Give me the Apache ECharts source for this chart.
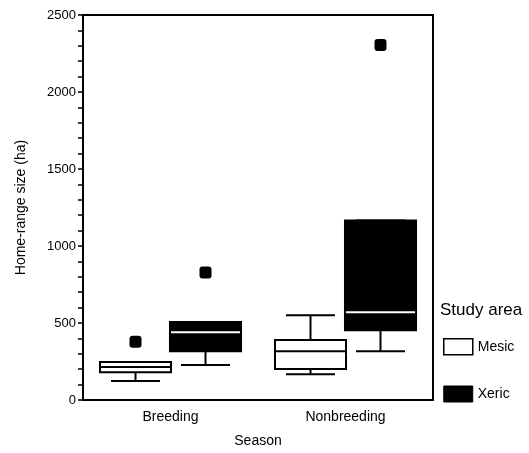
<!DOCTYPE html>
<html>
<head>
<meta charset="utf-8">
<script src="https://cdn.jsdelivr.net/npm/echarts@6/dist/echarts.min.js"></script>
<style>
  html, body { margin: 0; padding: 0; background: #fff; }
  #chart { width: 529px; height: 453px; }
</style>
</head>
<body>
<div id="chart"></div>
<script>
// Seasons on the x axis
const categories = ['Breeding', 'Nonbreeding'];
// Box summaries per season: [lower whisker, Q1, median, Q3, upper whisker]
const mesicBoxes = [[123, 181, 214, 246, 246], [168, 201, 317, 389, 551]];
const xericBoxes = [[227, 317, 440, 507, 507], [317, 453, 570, 1166, 1166]];
// Outliers: [season index, home-range size]
const mesicOutliers = [[0, 378]];
const xericOutliers = [[0, 828], [1, 2306]];
// Y axis ticks
const yMin = 0, yMax = 2500, yStep = 500;

const FONT = 'Liberation Sans, Arial, Helvetica, sans-serif';

// Box drawn at a fraction of the category band away from its centre
function boxRenderer(offsetFrac, fill, medianColor) {
  return function (params, api) {
    const idx = api.value(0);
    const band = api.size([1, 0])[0];
    const cx = api.coord([idx, 0])[0] + offsetFrac * band;
    const halfW = band * 0.203;
    const capHalf = band * 0.14;
    const yLo = api.coord([idx, api.value(1)])[1];
    const yQ1 = api.coord([idx, api.value(2)])[1];
    const yMed = api.coord([idx, api.value(3)])[1];
    const yQ3 = api.coord([idx, api.value(4)])[1];
    const yHi = api.coord([idx, api.value(5)])[1];
    const stroke = { stroke: '#000', lineWidth: 2 };
    const children = [
      { type: 'line', shape: { x1: cx, y1: yQ1, x2: cx, y2: yLo }, style: stroke },
      { type: 'line', shape: { x1: cx - capHalf, y1: yLo, x2: cx + capHalf, y2: yLo }, style: stroke },
      { type: 'line', shape: { x1: cx, y1: yQ3, x2: cx, y2: yHi }, style: stroke },
      { type: 'line', shape: { x1: cx - capHalf, y1: yHi, x2: cx + capHalf, y2: yHi }, style: stroke },
      { type: 'rect', shape: { x: cx - halfW, y: yQ3, width: 2 * halfW, height: yQ1 - yQ3 },
        style: { fill: fill, stroke: '#000', lineWidth: 2 } },
      { type: 'line', shape: { x1: cx - halfW + 1, y1: yMed, x2: cx + halfW - 1, y2: yMed },
        style: { stroke: medianColor, lineWidth: 2 } }
    ];
    return { type: 'group', children: children };
  };
}

function outlierRenderer(offsetFrac) {
  return function (params, api) {
    const idx = api.value(0);
    const band = api.size([1, 0])[0];
    const p = api.coord([idx, api.value(1)]);
    const cx = p[0] + offsetFrac * band;
    const s = 12;
    return {
      type: 'rect',
      shape: { x: cx - s / 2, y: p[1] - s / 2, width: s, height: s, r: 3 },
      style: { fill: '#000' }
    };
  };
}

const chart = echarts.init(document.getElementById('chart'), null, { renderer: 'canvas' });

chart.setOption({
  animation: false,
  backgroundColor: '#fff',
  textStyle: { fontFamily: FONT, color: '#000' },
  grid: {
    left: 83, right: 96, top: 15, bottom: 52,
    show: true, borderColor: '#000', borderWidth: 2, backgroundColor: 'transparent'
  },
  title: {
    text: 'Study area',
    left: 440, top: 302, padding: 0,
    textStyle: { fontFamily: FONT, fontSize: 17, fontWeight: 'normal', color: '#000' }
  },
  legend: {
    orient: 'vertical',
    left: 443, top: 338, padding: 0,
    itemWidth: 29, itemHeight: 16, itemGap: 30,
    selectedMode: false,
    icon: 'rect',
    textStyle: { fontFamily: FONT, fontSize: 14, color: '#000' },
    data: [
      { name: 'Mesic', itemStyle: { color: '#fff', borderColor: '#000', borderWidth: 1.5 } },
      { name: 'Xeric', itemStyle: { color: '#000', borderColor: '#000', borderWidth: 1 } }
    ]
  },
  xAxis: {
    type: 'category',
    data: categories,
    name: 'Season',
    nameLocation: 'middle',
    nameGap: 34,
    nameTextStyle: { fontFamily: FONT, fontSize: 14, color: '#000' },
    axisLine: { lineStyle: { color: '#000', width: 2 } },
    axisTick: { alignWithLabel: true, length: 4, lineStyle: { color: '#000', width: 1.5 } },
    axisLabel: { fontFamily: FONT, fontSize: 14, color: '#000', margin: 10 },
    splitLine: { show: false }
  },
  yAxis: {
    type: 'value',
    min: yMin, max: yMax, interval: yStep,
    name: 'Home-range size (ha)',
    nameLocation: 'middle',
    nameGap: 55,
    nameTextStyle: { fontFamily: FONT, fontSize: 14, color: '#000' },
    axisLine: { show: true, lineStyle: { color: '#000', width: 2 } },
    axisTick: { show: true, length: 5, lineStyle: { color: '#000', width: 1.5 } },
    minorTick: { show: true, splitNumber: 5, length: 5, lineStyle: { color: '#000', width: 1.5 } },
    axisLabel: { fontFamily: FONT, fontSize: 13, color: '#000', margin: 7,
      formatter: (v) => String(v) },
    splitLine: { show: false }
  },
  series: [
    {
      name: 'Mesic', type: 'custom', renderItem: boxRenderer(-0.2, '#fff', '#000'),
      itemStyle: { color: '#fff', borderColor: '#000' },
      encode: { x: 0, y: [1, 2, 3, 4, 5] },
      data: mesicBoxes.map((b, i) => [i].concat(b))
    },
    {
      name: 'Xeric', type: 'custom', renderItem: boxRenderer(0.2, '#000', '#fff'),
      itemStyle: { color: '#000' },
      encode: { x: 0, y: [1, 2, 3, 4, 5] },
      data: xericBoxes.map((b, i) => [i].concat(b))
    },
    {
      name: 'Mesic', type: 'custom', renderItem: outlierRenderer(-0.2),
      itemStyle: { color: '#fff', borderColor: '#000' },
      encode: { x: 0, y: 1 },
      data: mesicOutliers
    },
    {
      name: 'Xeric', type: 'custom', renderItem: outlierRenderer(0.2),
      itemStyle: { color: '#000' },
      encode: { x: 0, y: 1 },
      data: xericOutliers
    }
  ]
});
</script>
</body>
</html>
